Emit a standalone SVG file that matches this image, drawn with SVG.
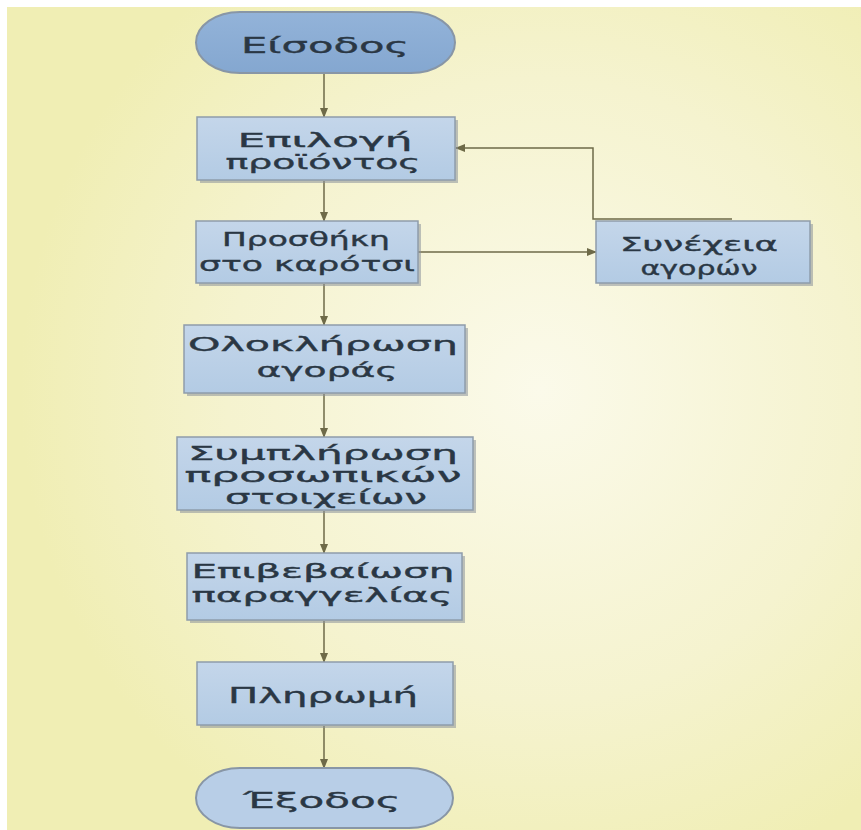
<svg xmlns="http://www.w3.org/2000/svg" width="861" height="830" viewBox="0 0 861 830">
<defs>
<radialGradient id="bg" cx="540" cy="390" r="520" gradientUnits="userSpaceOnUse">
<stop offset="0" stop-color="#fbfaea"/>
<stop offset="0.6" stop-color="#f5f3cf"/>
<stop offset="1" stop-color="#f0eeb4"/>
</radialGradient>
<linearGradient id="boxg" x1="0" y1="0" x2="0" y2="1">
<stop offset="0" stop-color="#c4d6ea"/>
<stop offset="1" stop-color="#b3cbe4"/>
</linearGradient>
<linearGradient id="startg" x1="0" y1="0" x2="0" y2="1">
<stop offset="0" stop-color="#93b3d9"/>
<stop offset="1" stop-color="#84a7d0"/>
</linearGradient>
<marker id="arr" markerWidth="10" markerHeight="8" refX="9" refY="4" orient="auto" markerUnits="userSpaceOnUse">
<path d="M0,0 L10,4 L0,8 z" fill="#6e6a48"/>
</marker>
</defs>
<style>
.box{fill:url(#boxg);stroke:#8e9cab;stroke-width:1.5}
.sh{fill:#8b929a;opacity:0.55}
.term{stroke:#8896a6;stroke-width:2}
.t{font-family:"DejaVu Sans","Noto Sans",sans-serif;font-size:19px;fill:#2a3744;stroke:#2a3744;stroke-width:0.35;text-anchor:middle}
.b{font-size:22px}
.c{fill:none;stroke:#6e6a48;stroke-width:1.5}
</style>
<rect x="0" y="0" width="861" height="830" fill="#ffffff"/>
<rect x="7" y="7" width="854" height="823" fill="url(#bg)"/>

<g id="connectors">
<line class="c" x1="324" y1="73" x2="324" y2="117" marker-end="url(#arr)"/>
<line class="c" x1="324" y1="181" x2="324" y2="221" marker-end="url(#arr)"/>
<line class="c" x1="324" y1="284" x2="324" y2="325" marker-end="url(#arr)"/>
<line class="c" x1="324" y1="394" x2="324" y2="437" marker-end="url(#arr)"/>
<line class="c" x1="324" y1="511" x2="324" y2="553" marker-end="url(#arr)"/>
<line class="c" x1="324" y1="621" x2="324" y2="662" marker-end="url(#arr)"/>
<line class="c" x1="324" y1="726" x2="324" y2="768" marker-end="url(#arr)"/>
<line class="c" x1="418" y1="252" x2="596" y2="252" marker-end="url(#arr)"/>
<path class="c" d="M732,219 H593 V148 H456" marker-end="url(#arr)"/>
</g>

<g id="start">
<rect x="196" y="12" width="259" height="61" rx="44" ry="30.5" fill="url(#startg)" class="term"/>
<text class="t b" x="325" y="53" textLength="168" lengthAdjust="spacingAndGlyphs">Είσοδος</text>
</g>

<g id="select">
<rect class="sh" x="200" y="120" width="258" height="63"/>
<rect class="box" x="197" y="117" width="258" height="63"/>
<text class="t" x="325" y="147" textLength="175" lengthAdjust="spacingAndGlyphs">Επιλογή</text>
<text class="t" x="323" y="169" textLength="195" lengthAdjust="spacingAndGlyphs">προϊόντος</text>
</g>

<g id="addcart">
<rect class="sh" x="199" y="224" width="222" height="62"/>
<rect class="box" x="196" y="221" width="222" height="62"/>
<text class="t" x="306" y="246" textLength="168" lengthAdjust="spacingAndGlyphs">Προσθήκη</text>
<text class="t" x="307" y="271" textLength="216" lengthAdjust="spacingAndGlyphs">στο καρότσι</text>
</g>

<g id="continue">
<rect class="sh" x="599" y="224" width="214" height="62"/>
<rect class="box" x="596" y="221" width="214" height="62"/>
<text class="t" x="699" y="251" textLength="158" lengthAdjust="spacingAndGlyphs">Συνέχεια</text>
<text class="t" x="699" y="275" textLength="117" lengthAdjust="spacingAndGlyphs">αγορών</text>
</g>

<g id="complete">
<rect class="sh" x="187" y="328" width="281" height="68"/>
<rect class="box" x="184" y="325" width="281" height="68"/>
<text class="t" x="323" y="351" textLength="270" lengthAdjust="spacingAndGlyphs">Ολοκλήρωση</text>
<text class="t" x="327" y="377" textLength="141" lengthAdjust="spacingAndGlyphs">αγοράς</text>
</g>

<g id="details">
<rect class="sh" x="180" y="440" width="296" height="73"/>
<rect class="box" x="177" y="437" width="296" height="73"/>
<text class="t" x="323" y="460" textLength="270" lengthAdjust="spacingAndGlyphs">Συμπλήρωση</text>
<text class="t" x="323" y="482" textLength="277" lengthAdjust="spacingAndGlyphs">προσωπικών</text>
<text class="t" x="326" y="504" textLength="202" lengthAdjust="spacingAndGlyphs">στοιχείων</text>
</g>

<g id="confirm">
<rect class="sh" x="190" y="556" width="275" height="67"/>
<rect class="box" x="187" y="553" width="275" height="67"/>
<text class="t" x="323" y="578" textLength="263" lengthAdjust="spacingAndGlyphs">Επιβεβαίωση</text>
<text class="t" x="322" y="602" textLength="261" lengthAdjust="spacingAndGlyphs">παραγγελίας</text>
</g>

<g id="payment">
<rect class="sh" x="200" y="665" width="256" height="63"/>
<rect class="box" x="197" y="662" width="256" height="63"/>
<text class="t b" x="323" y="703" textLength="190" lengthAdjust="spacingAndGlyphs">Πληρωμή</text>
</g>

<g id="exit">
<rect x="196" y="768" width="257" height="60" rx="44" ry="30" fill="#b8cee7" class="term"/>
<text class="t b" x="322" y="808" textLength="157" lengthAdjust="spacingAndGlyphs">Έξοδος</text>
</g>
</svg>
